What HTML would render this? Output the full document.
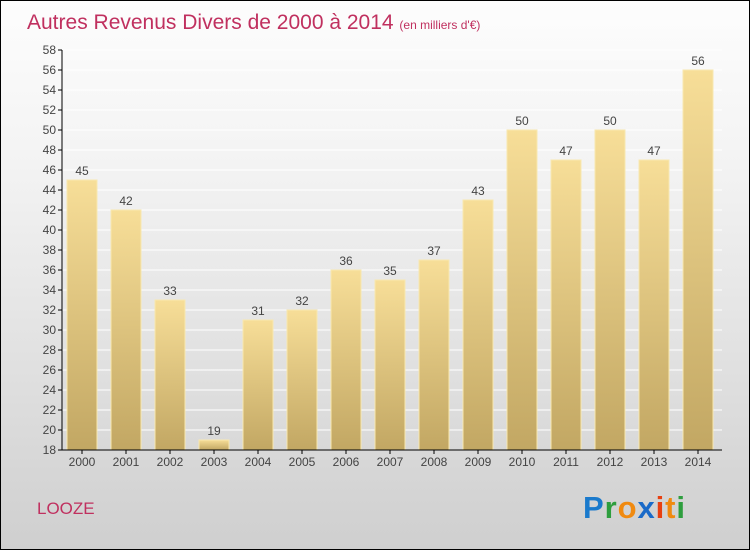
<!DOCTYPE html>
<html><head><meta charset="utf-8"><style>
body{margin:0}
#c{width:750px;height:550px;position:relative;box-sizing:border-box;border:1px solid #000;background:linear-gradient(#fdfdfd,#f3f3f3 30%,#cfcfcf);font-family:"Liberation Sans",sans-serif;overflow:hidden}
</style></head><body>
<div id="c">
<svg width="750" height="550" style="position:absolute;left:-1px;top:-1px">
<defs><linearGradient id="g" x1="0" y1="0" x2="0" y2="1"><stop offset="0" stop-color="#f7de98"/><stop offset="1" stop-color="#c2a763"/></linearGradient></defs>
<text x="27" y="29" font-size="21" fill="#c0305f">Autres Revenus Divers de 2000 à 2014 <tspan font-size="12">(en milliers d'€)</tspan></text>
<g id="plot"></g>
<text x="37" y="514" font-size="17" fill="#c0305f">LOOZE</text>
<g font-size="31" font-weight="bold" font-family="'Liberation Sans',sans-serif">
<text x="583" y="518" textLength="102" lengthAdjust="spacing"><tspan fill="#1a7acc">P</tspan><tspan fill="#2e9e3e">r</tspan><tspan fill="#f08a10">o</tspan><tspan fill="#1a6ac8">x</tspan><tspan fill="#e84010">i</tspan><tspan fill="#f08a10">t</tspan><tspan fill="#2e9e3e">i</tspan></text></g>
</svg>
</div>
<script>
const years=["2000","2001","2002","2003","2004","2005","2006","2007","2008","2009","2010","2011","2012","2013","2014"];
const values=[45,42,33,19,31,32,36,35,37,43,50,47,50,47,56];
const yTicks=[18,20,22,24,26,28,30,32,34,36,38,40,42,44,46,48,50,52,54,56,58];
const NS="http://www.w3.org/2000/svg";
const g=document.getElementById('plot');
const y=v=>450-(v-18)*10;
const x=i=>82+i*44;
function mk(t,a,p){const e=document.createElementNS(NS,t);for(const k in a)e.setAttribute(k,a[k]);(p||g).appendChild(e);return e;}
yTicks.forEach(t=>{
 const l=mk('line',{x1:62,x2:722,y1:y(t),y2:y(t),stroke:'#fff','stroke-width':1});
 
 
 mk('line',{x1:58,x2:62,y1:y(t),y2:y(t),stroke:'#000'});
 const tx=mk('text',{x:56,y:y(t)+4,'text-anchor':'end','font-size':12,fill:'#444'});tx.textContent=t;
 
 
});
values.forEach((v,i)=>{
 const r=mk('rect',{x:x(i)-15,y:y(v),width:30,height:450-y(v),fill:'url(#g)',stroke:'#f8e8b0','stroke-width':1});
 
 
 const t=mk('text',{x:x(i),y:y(v)-5,'text-anchor':'middle','font-size':12,fill:'#444'});t.textContent=v;
 
 
 mk('line',{x1:x(i),x2:x(i),y1:450,y2:454,stroke:'#000'});
 const xl=mk('text',{x:x(i),y:466,'text-anchor':'middle','font-size':12,fill:'#444'});xl.textContent=years[i];
 
 
});
const ya=mk('line',{x1:62,x2:62,y1:50,y2:450,stroke:'#000'});


const xa=mk('line',{x1:62,x2:722,y1:450,y2:450,stroke:'#000'});


</script>
</body></html>
